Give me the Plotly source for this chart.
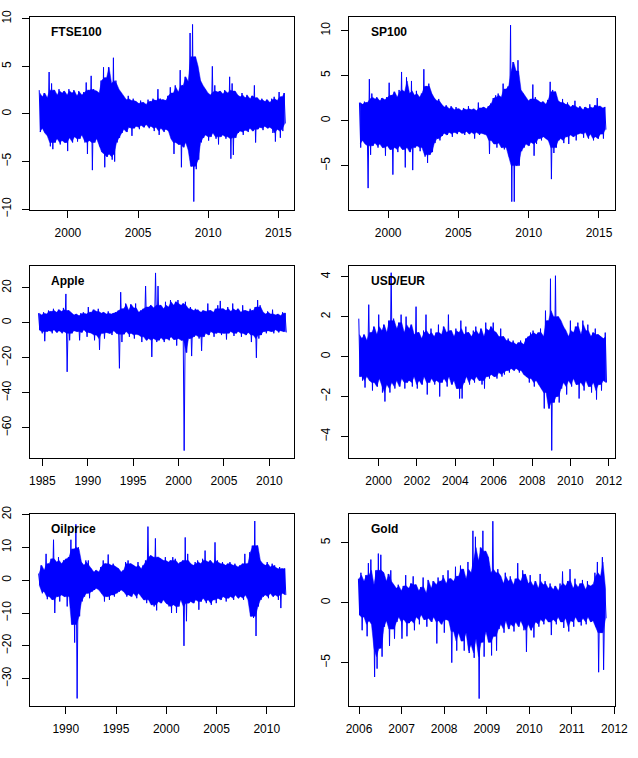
import plotly.graph_objects as go

# ---------------- data (upper / lower envelopes of daily returns) -------------
names = ["FTSE100", "SP100", "Apple", "USD/EUR", "Oilprice", "Gold"]
start_years = [1998.0, 1998.0, 1984.65, 1999.0, 1987.36, 2006.0]
end_years = [2015.45, 2015.45, 2011.79, 2011.85, 2011.84, 2011.79]

ftse_hi = [2.5, 1.8, 2.2, 1.7, 4.4, 3.2, 2.5, 2.0, 2.6, 2.2,
           2.4, 2.0, 2.6, 2.2, 2.5, 1.9, 2.4, 2.0, 2.3, 3.3,
           2.5, 4.0, 2.6, 2.4, 2.2, 3.5, 4.9, 3.8, 4.9, 3.2,
           5.9, 3.5, 2.6, 2.2, 1.8, 1.5, 1.9, 1.4, 1.6, 1.3,
           1.1, 1.4, 1.2, 1.0, 1.5, 1.3, 1.6, 1.4, 2.6, 1.6,
           1.5, 1.4, 1.9, 2.8, 2.2, 3.0, 2.3, 4.6, 3.0, 3.9,
           3.4, 8.5, 9.4, 6.0, 5.0, 3.5, 3.0, 2.6, 2.2, 2.0,
           5.0, 3.0, 2.3, 2.4, 2.1, 2.5, 2.2, 3.9, 3.2, 2.4,
           2.0, 1.8, 2.2, 1.7, 2.0, 1.6, 1.9, 3.0, 1.7, 1.4,
           1.6, 1.3, 1.5, 1.2, 1.6, 1.8, 1.4, 2.3, 1.8, 2.2]
ftse_lo = [-1.9, -1.5, -2.0, -2.3, -3.4, -3.7, -3.0, -2.6, -3.2, -2.8,
           -3.0, -3.9, -2.5, -3.0, -2.4, -2.9, -2.6, -2.2, -3.0, -4.2,
           -2.8, -5.9, -3.0, -2.6, -3.4, -4.0, -5.6, -4.5, -4.2, -4.8,
           -5.0, -3.0, -2.5, -2.0, -1.6, -1.9, -1.4, -2.3, -1.5, -1.3,
           -1.6, -1.2, -1.4, -1.1, -1.5, -1.3, -1.8, -1.4, -2.2, -1.5,
           -1.9, -1.6, -1.8, -2.6, -4.2, -3.0, -3.2, -5.6, -3.5, -3.0,
           -3.8, -5.5, -9.2, -5.8, -4.8, -3.0, -2.5, -2.2, -2.8, -2.4,
           -2.0, -2.6, -3.2, -2.4, -2.2, -2.6, -2.4, -4.7, -4.3, -2.5,
           -2.0, -1.8, -2.2, -1.7, -1.9, -1.5, -1.8, -3.0, -1.6, -1.4,
           -1.7, -1.3, -1.5, -1.4, -2.0, -2.9, -1.6, -2.5, -1.8, -1.0]

sp_hi = [2.0, 1.8, 2.1, 2.0, 4.6, 3.0, 2.4, 2.6, 2.2, 2.5,
         2.3, 2.6, 4.2, 2.8, 3.2, 2.6, 3.4, 5.4, 3.2, 4.8,
         3.0, 4.4, 2.8, 3.3, 2.6, 3.0, 5.7, 3.8, 4.1, 3.0,
         2.5, 2.2, 2.4, 1.8, 1.5, 1.7, 1.3, 1.6, 1.2, 1.5,
         1.3, 1.1, 1.4, 1.2, 1.6, 1.2, 1.3, 1.1, 2.0, 1.4,
         1.5, 1.3, 1.6, 1.9, 2.5, 2.8, 3.0, 2.6, 4.1, 3.5,
         3.8, 10.6, 6.5, 5.5, 6.7, 3.4, 3.0, 2.6, 2.2, 2.4,
         4.0, 2.6, 2.2, 2.0, 2.1, 1.8, 2.3, 4.3, 3.4, 3.2,
         2.2, 2.0, 2.4, 1.8, 2.0, 1.5, 1.7, 2.2, 1.4, 1.6,
         1.2, 1.5, 1.3, 1.8, 1.4, 1.7, 2.5, 1.6, 1.4, 1.5]
sp_lo = [-3.0, -2.2, -2.6, -7.5, -3.8, -2.8, -2.5, -3.0, -2.6, -3.0,
         -3.9, -2.8, -3.2, -6.0, -3.0, -3.5, -2.8, -3.2, -5.2, -3.0,
         -3.5, -5.5, -3.0, -2.8, -3.4, -3.0, -4.0, -4.7, -3.8, -3.5,
         -2.5, -2.0, -2.2, -1.7, -1.4, -1.6, -1.3, -1.8, -1.3, -1.5,
         -1.2, -1.4, -1.6, -1.2, -1.5, -1.3, -2.0, -1.3, -1.6, -1.4,
         -1.5, -1.6, -3.7, -2.2, -2.6, -3.0, -2.5, -3.0, -3.2, -3.0,
         -4.0, -9.0, -9.0, -5.0, -5.0, -3.4, -3.0, -2.6, -2.8, -2.4,
         -3.9, -2.6, -2.0, -2.2, -1.8, -2.0, -2.2, -6.5, -3.6, -3.0,
         -2.2, -2.0, -2.5, -1.8, -2.6, -1.6, -1.8, -2.2, -1.5, -1.4,
         -1.9, -1.3, -2.0, -1.5, -2.2, -1.8, -2.0, -1.5, -2.0, -1.0]

apple_hi = [5.5, 4.5, 6.0, 5.0, 7.0, 6.5, 8.0, 6.0, 7.5, 6.5,
            8.5, 16.5, 7.0, 5.5, 4.5, 5.0, 4.0, 5.5, 6.0, 5.0,
            9.0, 6.0, 7.5, 6.5, 8.0, 5.5, 6.0, 5.0, 6.5, 5.0,
            5.5, 6.0, 7.0, 17.5, 8.0, 11.0, 7.0, 10.5, 8.5, 11.0,
            6.0, 7.0, 8.0, 21.0, 9.0, 10.0, 8.5, 28.5, 21.0, 10.0,
            8.0, 12.0, 9.0, 13.0, 10.0, 12.0, 13.0, 10.0, 11.0, 12.0,
            8.0, 9.0, 7.0, 8.0, 7.5, 6.0, 7.0, 6.5, 11.0, 7.0,
            6.0, 8.0, 10.0, 12.5, 8.0, 7.0, 9.0, 6.5, 11.0, 7.0,
            8.0, 6.0, 10.0, 7.0, 6.5, 8.0, 7.0, 9.0, 13.0, 10.0,
            6.0, 5.0, 6.5, 5.0, 7.5, 4.5, 5.0, 4.0, 6.0, 5.5]
apple_lo = [-4.0, -6.0, -10.5, -5.0, -4.5, -6.0, -4.0, -5.5, -4.5, -6.0,
            -5.0, -28.0, -10.0, -6.0, -4.5, -5.0, -10.0, -5.5, -4.0, -8.0,
            -5.5, -6.0, -10.0, -7.0, -15.5, -6.0, -9.0, -5.5, -6.0, -7.0,
            -4.5, -6.0, -26.0, -11.0, -6.5, -5.0, -8.0, -6.0, -9.0, -6.5,
            -7.0, -11.0, -8.0, -10.0, -9.0, -19.5, -9.0, -11.0, -10.0, -8.5,
            -11.0, -9.0, -10.0, -8.0, -9.5, -13.0, -9.0, -10.0, -73.0, -17.0,
            -9.0, -19.0, -8.0, -7.0, -9.0, -16.0, -8.0, -6.0, -7.0, -5.0,
            -8.0, -6.0, -5.5, -7.0, -6.0, -9.5, -6.0, -5.0, -7.5, -6.0,
            -5.0, -8.0, -6.0, -7.0, -5.5, -11.0, -7.0, -20.0, -9.0, -7.0,
            -5.0, -6.0, -4.5, -5.0, -6.0, -4.0, -5.5, -4.5, -5.0, -5.5]

usd_hi = [1.9, 0.9, 1.1, 0.8, 2.6, 1.2, 1.5, 1.1, 2.1, 1.3,
          1.6, 1.2, 1.8, 4.2, 1.9, 1.4, 1.7, 2.1, 1.2, 2.0,
          1.4, 1.6, 1.1, 2.5, 1.2, 0.9, 1.3, 2.1, 1.1, 1.4,
          1.0, 1.2, 1.6, 1.1, 1.5, 1.2, 2.1, 1.3, 1.0, 1.4,
          1.2, 1.8, 1.1, 1.5, 1.2, 1.0, 1.3, 1.5, 1.1, 1.4,
          1.0, 1.7, 1.3, 1.5, 1.7, 1.2, 1.0, 1.4, 1.0, 0.8,
          0.9, 0.7, 0.8, 0.6, 0.7, 0.8, 0.6, 0.9, 1.0, 1.2,
          1.3, 1.1, 1.2, 1.4, 1.0, 2.3, 1.8, 3.9, 2.0, 4.05,
          2.0, 1.8, 1.5, 1.3, 1.0, 1.8, 1.2, 1.5, 1.7, 1.1,
          1.8, 1.3, 1.6, 1.0, 1.2, 1.4, 1.1, 1.0, 0.9, 1.2]
usd_lo = [-1.0, -1.2, -1.55, -1.0, -1.2, -1.7, -1.3, -1.5, -1.1, -1.8,
          -2.25, -1.4, -1.8, -1.3, -1.6, -1.2, -1.5, -1.1, -1.6, -1.3,
          -1.2, -1.5, -1.0, -1.6, -1.2, -1.4, -1.0, -1.9, -1.3, -1.1,
          -1.4, -1.2, -2.0, -1.3, -1.1, -1.5, -1.0, -1.4, -1.2, -1.6,
          -2.1, -2.1, -1.3, -1.0, -1.4, -1.1, -1.3, -1.0, -1.2, -1.4,
          -1.6, -1.0, -1.1, -0.9, -1.0, -1.1, -0.8, -1.0, -0.9, -0.7,
          -0.8, -0.6, -0.7, -0.6, -0.8, -0.7, -0.9, -1.0, -1.3, -1.1,
          -1.5, -1.2, -1.4, -1.6, -2.6, -1.8, -2.6, -4.7, -2.3, -2.0,
          -2.3, -1.6, -1.3, -1.9, -1.2, -1.5, -1.1, -1.4, -2.1, -1.3,
          -1.7, -1.2, -1.5, -1.8, -1.3, -2.15, -1.4, -1.7, -1.2, -1.3]

oil_hi = [2.0, 4.5, 3.0, 8.0, 5.0, 6.5, 12.3, 5.5, 7.0, 5.0,
          6.0, 6.5, 7.0, 12.3, 9.5, 17.0, 10.0, 5.5, 4.5, 6.0,
          6.0, 3.5, 2.5, 3.0, 2.5, 4.0, 6.0, 5.0, 7.8, 4.5,
          5.0, 4.0, 3.5, 2.5, 3.0, 5.5, 6.0, 5.0, 4.5, 4.0,
          5.5, 3.5, 4.5, 6.0, 16.3, 7.5, 7.0, 12.7, 7.0, 6.5,
          6.0, 7.0, 5.5, 6.0, 7.0, 6.5, 5.0, 5.5, 6.0, 13.0,
          8.0, 5.0, 4.5, 5.5, 6.0, 5.0, 6.5, 9.0, 5.5, 6.0,
          5.0, 11.5, 6.0, 5.0, 5.5, 4.5, 5.0, 5.5, 4.5, 5.0,
          4.0, 4.5, 5.0, 8.0, 5.0, 8.5, 10.5, 18.0, 10.5, 6.0,
          5.0, 4.5, 5.5, 4.0, 5.0, 4.5, 3.5, 4.0, 3.5, 3.5]
oil_lo = [-1.5, -4.0, -3.5, -5.8, -5.0, -6.0, -10.0, -5.0, -6.5, -4.5,
          -5.0, -8.0, -5.0, -13.5, -19.0, -36.0, -11.0, -6.5, -5.0, -4.0,
          -5.5, -3.5, -3.0, -2.5, -3.0, -4.0, -6.5, -5.0, -6.0, -4.5,
          -5.0, -4.0, -3.5, -3.0, -3.5, -5.0, -4.5, -5.0, -4.0, -5.5,
          -4.0, -5.0, -6.0, -7.0, -6.0, -7.5, -8.0, -9.2, -6.5, -7.0,
          -6.0, -7.0, -8.0, -10.0, -7.5, -10.0, -8.0, -6.0, -20.0, -12.5,
          -7.0, -6.5, -7.0, -6.0, -9.0, -6.5, -5.5, -7.0, -6.0, -7.5,
          -6.0, -7.0, -5.5, -6.0, -5.0, -6.5, -5.5, -5.0, -6.0, -4.5,
          -5.5, -5.0, -6.0, -4.5, -6.0, -11.0, -11.5, -17.0, -8.0, -6.0,
          -5.0, -4.5, -5.5, -4.0, -5.0, -4.5, -6.0, -8.5, -4.0, -4.5]

gold_hi = [2.0, 2.5, 1.8, 2.3, 3.3, 3.6, 1.5, 2.7, 4.1, 4.0,
           2.5, 1.8, 2.4, 2.7, 1.5, 1.2, 1.5, 1.0, 1.4, 2.3,
           1.2, 1.6, 2.2, 1.5, 1.0, 1.3, 2.1, 0.8, 1.9, 1.2,
           1.8, 1.5, 2.1, 1.8, 2.3, 1.6, 2.7, 2.0, 1.8, 3.0,
           2.2, 3.1, 2.8, 2.0, 3.4, 2.5, 6.0, 5.5, 3.5, 4.6,
           6.0, 4.3, 3.8, 2.5, 6.8, 2.5, 2.8, 2.2, 1.6, 2.5,
           1.8, 2.2, 1.5, 2.0, 3.3, 1.8, 2.7, 2.4, 1.6, 2.3,
           1.4, 1.8, 1.2, 2.4, 1.5, 1.8, 1.2, 1.6, 1.1, 1.4,
           1.0, 1.6, 2.6, 1.4, 1.8, 2.8, 1.2, 2.0, 1.3, 1.6,
           1.9, 1.1, 1.8, 1.4, 1.5, 2.5, 3.4, 2.2, 3.8, 1.2]
gold_lo = [-1.0, -2.3, -1.2, -2.8, -1.5, -1.8, -6.2, -5.5, -3.8, -4.5,
           -2.0, -1.5, -3.6, -2.2, -3.0, -1.6, -1.2, -3.0, -1.4, -2.8,
           -1.7, -1.5, -2.3, -1.2, -1.8, -1.0, -1.4, -2.0, -1.3, -1.6,
           -1.2, -3.4, -1.5, -1.8, -2.5, -1.4, -1.5, -5.0, -2.4, -4.0,
           -2.5, -3.2, -4.0, -2.5, -4.2, -3.5, -4.6, -3.0, -8.0, -3.3,
           -4.5, -2.4, -3.3, -4.4, -2.8, -4.0, -2.2, -1.8, -2.5, -1.5,
           -2.2, -1.8, -2.4, -1.6, -2.0, -1.5, -2.3, -4.1, -1.8, -2.3,
           -2.9, -1.6, -2.0, -1.4, -1.8, -1.3, -1.6, -2.7, -1.4, -1.8,
           -1.2, -1.6, -2.1, -1.3, -2.4, -1.5, -2.0, -1.2, -1.6, -1.9,
           -1.3, -1.8, -1.2, -1.6, -1.5, -2.0, -5.8, -2.5, -5.6, -1.3]

highs = [ftse_hi, sp_hi, apple_hi, usd_hi, oil_hi, gold_hi]
lows = [ftse_lo, sp_lo, apple_lo, usd_lo, oil_lo, gold_lo]

x_ticks = [[2000, 2005, 2010, 2015], [2000, 2005, 2010, 2015],
           [1985, 1990, 1995, 2000, 2005, 2010], [2000, 2002, 2004, 2006, 2008, 2010, 2012],
           [1990, 1995, 2000, 2005, 2010], [2006, 2007, 2008, 2009, 2010, 2011, 2012]]
y_ticks = [[-10, -5, 0, 5, 10], [-5, 0, 5, 10], [-60, -40, -20, 0, 20],
           [-4, -2, 0, 2, 4], [-30, -20, -10, 0, 10, 20], [-5, 0, 5]]

# ---------------- layout geometry ----------------
x_ranges = [[1997.27, 2016.14], [1997.23, 2016.16], [1983.6, 2012.75],
            [1998.47, 2012.34], [1986.4, 2012.75], [2005.77, 2012.02]]
y_ranges = [[-10.05, 10.17], [-9.89, 11.49], [-77.0, 32.6],
            [-5.06, 4.55], [-38.2, 20.2], [-8.59, 7.42]]
W, H = 638, 758
col_px = [(26.3, 298.3), (354.7, 628.0)]
row_px = [(9.3, 206.0), (263.3, 459.3), (516.7, 712.7)]

BLUE = "#0000FF"
FONT = "Liberation Sans, Arial, Helvetica, sans-serif"
fig = go.Figure()
layout = dict(width=W, height=H, margin=dict(l=0, r=0, t=0, b=0),
              paper_bgcolor="white", plot_bgcolor="white", showlegend=False,
              font=dict(family=FONT, size=12, color="black"), annotations=[])


def dense_core(vals, upper):
    # the dense body of the series (running median of 5); spikes are left to the line trace
    out = []
    for i, v in enumerate(vals):
        win = sorted(vals[max(0, i - 2): i + 3])
        med = win[len(win) // 2]
        out.append(min(v, med) if upper else max(v, med))
    return out


for k in range(6):
    hi, lo = highs[k], lows[k]
    assert len(hi) == len(lo)
    n = len(hi)
    dt = (end_years[k] - start_years[k]) / (n - 1)
    ts = [start_years[k] + i * dt for i in range(n)]
    xs, ys = [], []
    for i in range(n):
        xs += [ts[i] - dt / 4, ts[i] + dt / 4]
        ys += [hi[i], lo[i]]
    sfx = "" if k == 0 else str(k + 1)
    ax = dict(xaxis="x" + sfx, yaxis="y" + sfx, hoverinfo="skip")
    fig.add_trace(go.Scatter(x=ts, y=dense_core(lo, False), mode="lines",
                             line=dict(color=BLUE, width=0.5), **ax))
    fig.add_trace(go.Scatter(x=ts, y=dense_core(hi, True), mode="lines",
                             line=dict(color=BLUE, width=0.5),
                             fill="tonexty", fillcolor=BLUE, **ax))
    fig.add_trace(go.Scatter(x=xs, y=ys, mode="lines", line=dict(color=BLUE, width=1), **ax))
    c, r = k % 2, k // 2
    x0, x1 = col_px[c]
    y0, y1 = row_px[r]
    common = dict(showgrid=False, zeroline=False, showline=True, mirror=True,
                  linecolor="black", linewidth=1, ticks="outside", ticklen=7,
                  tickwidth=1, tickcolor="black",
                  tickfont=dict(family=FONT, size=12, color="black"))
    layout["xaxis" + sfx] = dict(common, domain=[x0 / W, x1 / W], range=x_ranges[k],
                                 tickvals=x_ticks[k], ticktext=[str(v) for v in x_ticks[k]],
                                 anchor="y" + sfx, ticklabelstandoff=5)
    layout["yaxis" + sfx] = dict(common, domain=[1 - y1 / H, 1 - y0 / H], range=y_ranges[k],
                                 tickvals=y_ticks[k], tickangle=-90,
                                 anchor="x" + sfx, ticklabelstandoff=6)
    layout["annotations"].append(dict(
        text="<b>" + names[k] + "</b>", xref=("x" + sfx) + " domain", yref=("y" + sfx) + " domain",
        x=20 / (x1 - x0), y=1 - 15.5 / (y1 - y0), xanchor="left", yanchor="middle",
        showarrow=False, font=dict(family=FONT, size=12, color="black")))

fig.update_layout(**layout)
fig.write_html("out.html")
